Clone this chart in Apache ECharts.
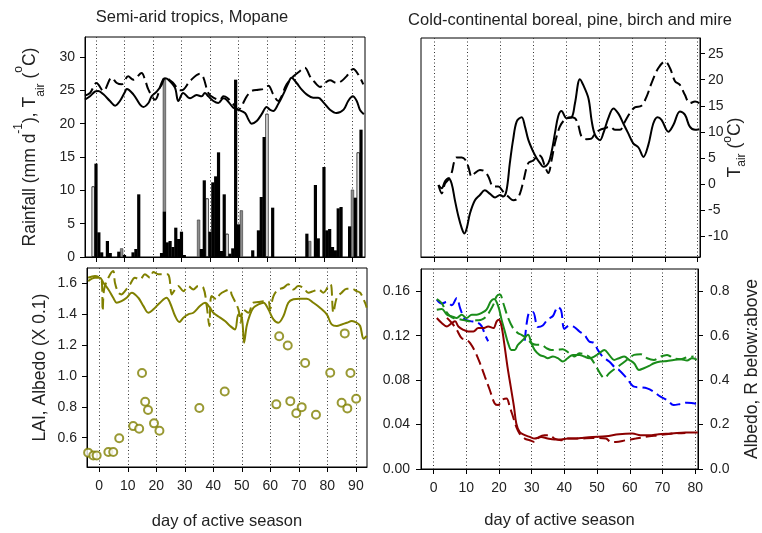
<!DOCTYPE html>
<html>
<head>
<meta charset="utf-8">
<script src="https://cdn.jsdelivr.net/npm/echarts@6/dist/echarts.min.js"></script>
<style>
  html, body { margin: 0; padding: 0; background: #fff; }
  #chart { width: 762px; height: 533px; }
</style>
</head>
<body>
<div id="chart"></div>
<script>
// ---- data ----
// tick positions
const xTicksMopane = [0, 10, 20, 30, 40, 50, 60, 70, 80, 90];
const xTicksBoreal = [0, 10, 20, 30, 40, 50, 60, 70, 80];
const yTicksRain = [0, 5, 10, 15, 20, 25, 30];
const yTicksLai = [0.6, 0.8, 1.0, 1.2, 1.4, 1.6];
const yTicksTair = [-10, -5, 0, 5, 10, 15, 20, 25];
const yTicksAlbedo = [0, 0.04, 0.08, 0.12, 0.16];
const yTicksRatio = [0, 0.2, 0.4, 0.6, 0.8];

// Mopane rainfall bars [day, mm]
const rainBlack = [[0, 14.0], [1, 3.7], [2, 0.7], [4, 2.4], [5, 0.6], [8, 0.8], [10, 0.3], [13, 0.7], [14, 1.2],
  [15, 9.4], [23, 0.6], [24, 6.8], [25, 2.2], [26, 2.4], [27, 1.5], [28, 4.4], [29, 2.7], [30, 3.8], [31, 0.3],
  [37, 1.2], [38, 11.5], [40, 3.8], [41, 11.2], [42, 12.1], [43, 15.7], [44, 0.9], [45, 9.4], [47, 0.5], [48, 1.3],
  [49, 26.6], [50, 4.9], [55, 1.0], [57, 4.0], [58, 9.0], [59, 18.0], [62, 7.4], [74, 3.5], [77, 10.8], [78, 2.8],
  [80, 13.5], [81, 4.0], [82, 4.2], [83, 1.5], [84, 1.0], [85, 7.3], [86, 7.5], [89, 4.6], [91, 8.9], [93, 19.1]];
const rainGrey = [[9, 1.3], [24, 26.8], [36, 5.6], [51, 7.0], [75, 2.4], [90, 10.1]];
const rainOpen = [[-1, 10.6], [39, 8.8], [46, 3.5], [60, 21.5], [92, 15.7]];

// Mopane air temperature [day, degC]
const tairDashedMopane = [[-3.9, 24.2], [-2.1, 24.6], [0.2, 26.1], [2.6, 24.9], [5.5, 26.9], [7.3, 26.1], [9, 25.9],
  [11.3, 27.1], [13.1, 26.6], [16, 27.6], [17.2, 26.6], [18.4, 25.1], [20.7, 23.6], [23, 26.1], [24.2, 26.9],
  [27.1, 26.1], [28.9, 25.1], [30.1, 25.0], [33, 26.4], [36.5, 27.5], [37.7, 26.9], [39.4, 24.6], [41.2, 23.9],
  [43.5, 23.6], [44.7, 24.1], [46, 23.9], [48.2, 22.9], [49.9, 22.1], [52.9, 24.1], [54.6, 24.9], [57, 25.1],
  [58.7, 25.2], [60.5, 25.7], [62.2, 24.4], [64, 23.4], [65.1, 24.1], [66.9, 25.9], [69.3, 27.1], [71.6, 27.9],
  [73.3, 28.4], [75.1, 27.1], [77.4, 25.9], [78.6, 25.5], [80.3, 26.1], [82.1, 26.5], [84.4, 26.1], [86.2, 26.4],
  [87.9, 27.1], [90.3, 28.2], [92, 27.4], [93.8, 25.9]];
const tairSolidMopane = [[-3.9, 23.6], [-2.1, 24.1], [-0.4, 24.8], [0.8, 24.9], [2.6, 24.4], [4.9, 23.4], [6.7, 22.7],
  [8.4, 23.4], [10.2, 24.8], [10.8, 25.2], [13.1, 24.4], [15.4, 22.9], [16.6, 22.5], [18.4, 23.1], [19.5, 24.1],
  [21.3, 24.8], [23, 25.8], [24.2, 26.8], [25.4, 26.6], [27.7, 25.4], [28.9, 23.4], [30.6, 24.6], [33, 23.8],
  [35.3, 24.3], [37.1, 24.1], [38.2, 24.6], [39.4, 24.1], [41.2, 23.4], [42.9, 23.1], [44.7, 23.8], [45.8, 23.6],
  [48.2, 22.4], [49.9, 22.1], [52.3, 21.6], [53.4, 20.7], [54.6, 20.0], [56.4, 20.4], [58.1, 21.4], [59.9, 22.5],
  [61, 22.1], [62.2, 21.9], [63.9, 22.9], [65.7, 24.4], [67.5, 26.1], [68.6, 26.9], [70.4, 26.1], [72.2, 25.1],
  [73.9, 24.4], [76.2, 23.9], [78, 23.9], [79.8, 23.2], [82.1, 22.1], [84.4, 21.6], [86.9, 22.1], [88.5, 23.4],
  [90.1, 24.1], [91.5, 23.4], [92.6, 22.1], [94, 21.4]];

// Mopane LAI (circles) and albedo x0.1 (lines)
const laiMopane = [[-3.9, 0.503], [-2.1, 0.485], [-0.9, 0.485], [3.2, 0.507], [4.9, 0.507], [7.0, 0.596],
  [11.9, 0.675], [14.0, 0.658], [15.0, 1.019], [16.1, 0.833], [17.1, 0.779], [19.2, 0.693], [21.1, 0.645],
  [35.1, 0.792], [44.0, 0.900], [62.1, 0.816], [63.1, 1.257], [66.1, 1.198], [67.0, 0.837], [69.1, 0.758],
  [71.0, 0.798], [72.2, 1.084], [76.0, 0.749], [81.0, 1.021], [85.0, 0.827], [86.1, 1.276], [87.0, 0.790],
  [88.1, 1.019], [90.1, 0.853]];
const albedoSolidMopane = [[-3.9, 1.615], [-1.5, 1.637], [0.2, 1.637], [1.4, 1.605], [3.2, 1.561], [4.9, 1.507],
  [6.1, 1.475], [7.8, 1.485], [9.6, 1.507], [11.4, 1.54], [13.7, 1.507], [15.5, 1.453], [17.2, 1.41], [19, 1.432],
  [21.3, 1.475], [23.6, 1.507], [24.8, 1.475], [26.6, 1.389], [28.1, 1.35], [29.5, 1.378], [31.2, 1.4], [33, 1.41],
  [35.3, 1.453], [37.1, 1.475], [38.8, 1.443], [40, 1.41], [42.4, 1.378], [44.1, 1.356], [45.9, 1.324],
  [47.6, 1.302], [48.8, 1.399], [50, 1.378], [50.8, 1.216], [51.7, 1.324], [52.9, 1.399], [54.1, 1.443],
  [55.8, 1.464], [57.6, 1.475], [59.3, 1.432], [61.1, 1.367], [62.8, 1.345], [64.6, 1.389], [66.3, 1.475],
  [68.1, 1.497], [70.4, 1.501], [72.8, 1.501], [75.1, 1.475], [77.4, 1.443], [79.8, 1.399], [81.5, 1.334],
  [83.3, 1.324], [85, 1.334], [86.8, 1.345], [88.6, 1.356], [90.3, 1.345], [91.5, 1.324], [92.7, 1.242],
  [93.8, 1.259]];
const albedoDashedMopane = [[-3.9, 1.637], [-1.5, 1.648], [0.2, 1.637], [0.9, 1.615], [1.2, 1.421], [1.7, 1.561],
  [3.2, 1.637], [4.9, 1.68], [5.5, 1.605], [6.7, 1.54], [7.8, 1.529], [9, 1.55], [10.8, 1.594], [12.5, 1.637],
  [14.3, 1.626], [16, 1.659], [17.8, 1.637], [19, 1.674], [20.7, 1.659], [22.5, 1.659], [23.9, 1.659],
  [24.6, 1.637], [25.4, 1.529], [26.2, 1.55], [27.7, 1.583], [29.5, 1.55], [31.2, 1.583], [33, 1.561],
  [34.7, 1.583], [36.5, 1.572], [37.7, 1.453], [38.6, 1.324], [39.4, 1.518], [41.2, 1.496], [42.3, 1.529],
  [44.1, 1.55], [45.9, 1.561], [46.4, 1.529], [48.8, 1.432], [49.6, 1.345], [50.5, 1.432], [52.3, 1.41],
  [54, 1.475], [55.8, 1.479], [57.5, 1.485], [59.3, 1.485], [59.9, 1.432], [61.1, 1.518], [62.8, 1.561],
  [64.6, 1.572], [66.3, 1.594], [68.1, 1.561], [69.8, 1.583], [71.6, 1.572], [73.3, 1.54], [75.1, 1.55],
  [76.9, 1.561], [78.6, 1.54], [80.4, 1.583], [81.2, 1.594], [82.1, 1.41], [83.3, 1.507], [85, 1.54],
  [86.8, 1.566], [88.6, 1.566], [90.3, 1.55], [91.5, 1.54], [93.2, 1.475], [93.8, 1.443]];

// Boreal air temperature [day, degC]
const tairSolidBoreal = [[1.2, -0.2], [2.2, -0.8], [3.2, 0.5], [4.2, 1.1], [5.2, 0.1], [6.2, -3.1], [7.3, -6.3],
  [8.3, -8.5], [9.1, -9.5], [9.8, -8.5], [10.8, -5.6], [12.3, -3.1], [13.8, -2.1], [15.3, -1.2], [16.9, -1.9],
  [18.4, -2.6], [19.9, -2.1], [20.9, -2.4], [21.9, -1.2], [22.9, 4.0], [23.9, 8.5], [25, 12.0], [26.5, 12.8],
  [27.5, 11.0], [28.5, 8.5], [30, 6.2], [31.1, 4.9], [32.1, 4.0], [33.1, 3.3], [34.6, 4.0], [35.6, 6.2],
  [36.6, 9.7], [37.6, 13.0], [38.6, 14.0], [40.2, 12.6], [41.7, 12.8], [42.7, 15.5], [44.2, 20.1], [45.2, 19.0],
  [46.8, 16.4], [47.8, 12.0], [48.8, 9.4], [50.3, 8.4], [51.3, 9.7], [52.8, 12.6], [54.4, 14.5], [55.9, 13.5],
  [57.4, 11.6], [58.9, 9.7], [60.4, 7.8], [62, 7.0], [63.5, 5.2], [65, 7.5], [66.5, 11.6], [67.8, 12.8],
  [69, 12.3], [71.1, 10], [72.6, 11.3], [74.6, 13.9], [76.1, 13.3], [77.6, 11], [79.2, 10.4], [80.5, 10.5]];
const tairDashedBoreal = [[1.2, -0.2], [2.2, -1.8], [3.2, 0.1], [4.2, 0.8], [5.2, 2.1], [6, 4.3], [6.7, 5.1],
  [8.3, 5.1], [9.3, 4.7], [10.3, 3.3], [11.3, 1.4], [12.3, 2.1], [13.8, 2.7], [15.3, 2.4], [16.4, 1.4],
  [17.9, -0.5], [19.4, -0.5], [20.9, -1.5], [22.4, -2.4], [23.9, -3.1], [25, -2.9], [26, -1.8], [27, 0.5],
  [28.5, 4.0], [30, 4.5], [31.6, 5.6], [32.6, 5.1], [33.6, 3.3], [34.6, 2.1], [35.6, 4.6], [36.6, 7.8],
  [38.1, 11], [39.7, 12.4], [41.2, 12.8], [42.7, 12.6], [43.7, 11.3], [44.7, 9.1], [46.2, 8.6], [47.7, 8.7],
  [48.8, 9.7], [50.3, 10.4], [51.8, 10.7], [53.3, 11], [54.9, 10.4], [56.4, 10.4], [57.9, 12], [59.4, 13.6],
  [60.9, 14.7], [62.9, 15], [64.5, 16.8], [66, 19.4], [68, 22.2], [70.1, 23.5], [71.6, 22.2], [73.1, 19.7],
  [74.6, 19], [76.1, 17.1], [77.6, 15.5], [79.2, 15.8], [80.5, 15.5]];

// Boreal albedo [day, albedo]
const albedoBlueDashed = [[1, 0.1525], [2.5, 0.1489], [4.1, 0.1504], [5.6, 0.1474], [7.1, 0.154], [8.1, 0.145],
  [9.6, 0.1346], [11.2, 0.1331], [13.2, 0.1322], [14.7, 0.1286], [15.7, 0.1211], [16.7, 0.115], [17.5, null],
  [27.9, 0.1155], [29.4, 0.1413], [30.4, 0.1413], [31.9, 0.1278], [33.4, 0.1292], [34.9, 0.1347], [36.5, 0.1377],
  [38, 0.1458], [39, 0.1428], [40, 0.1262], [41.5, 0.1292], [43, 0.1278], [44.6, 0.1238], [46.1, 0.1208],
  [47.6, 0.1148], [49.1, 0.1133], [50.2, 0.1072], [51.7, 0.1012], [53.7, 0.0967], [55.7, 0.0907], [56.7, 0.0892],
  [59, 0.082], [61.3, 0.0741], [63.3, 0.0735], [65.3, 0.0726], [67.3, 0.0696], [69.4, 0.0651], [71.4, 0.0621],
  [73.4, 0.0576], [75.4, 0.0585], [77.5, 0.0597], [79.5, 0.0591], [80.8, 0.0585]];
const albedoGreenSolid = [[1, 0.1434], [2.5, 0.144], [4.1, 0.1389], [5.6, 0.1374], [7.1, 0.1359], [8.6, 0.1389],
  [10.1, 0.1359], [11.7, 0.1389], [13.2, 0.1389], [14.7, 0.1404], [16.2, 0.1434], [17.5, 0.1509], [18.5, 0.153],
  [19.8, 0.1464], [20.8, 0.1344], [21.8, 0.1238], [22.8, 0.1133], [23.8, 0.1072], [24.8, 0.1072], [25.8, 0.1118],
  [27.4, 0.1163], [28.9, 0.1208], [29.9, 0.1133], [30.9, 0.1072], [32.4, 0.1027], [33.9, 0.1012], [34.9, 0.0997],
  [36.5, 0.1012], [38, 0.0997], [39.5, 0.0967], [41, 0.0997], [42.6, 0.1027], [44.6, 0.1027], [46.1, 0.1012],
  [47.6, 0.0997], [49.1, 0.1012], [50.7, 0.1042], [52.2, 0.1072], [53.7, 0.1027], [55.2, 0.0982], [56.7, 0.0997],
  [58.3, 0.1012], [59.8, 0.0982], [61.3, 0.0952], [62.8, 0.0892], [64.3, 0.0907], [65.9, 0.0928], [67.4, 0.0952],
  [69.4, 0.0967], [71.4, 0.0973], [73.4, 0.0982], [75.5, 0.0988], [77.5, 0.0976], [79, 0.0997], [80.5, 0.0985]];
const albedoGreenDashed = [[1, 0.153], [2.5, 0.1494], [3.5, 0.1434], [4.6, 0.1389], [6.1, 0.1359], [7.6, 0.135],
  [9.6, 0.1338], [11.2, 0.1329], [13.2, 0.1338], [14.7, 0.1344], [16.2, 0.1374], [17.2, 0.1419], [18.3, 0.1479],
  [19.3, 0.1555], [20.3, 0.157], [21.3, 0.1494], [22.8, 0.1359], [24.3, 0.1268], [25.8, 0.1223], [26.9, 0.1208],
  [28.4, 0.1178], [29.9, 0.1133], [31.4, 0.1118], [32.9, 0.1118], [34.5, 0.1088], [36, 0.1072], [37.5, 0.1072],
  [39.5, 0.1078], [41.5, 0.1042], [43.1, 0.1012], [44.6, 0.1042], [46.6, 0.1027], [48.1, 0.0997], [49.7, 0.0922],
  [51.2, 0.0847], [52.2, 0.0817], [53.7, 0.0862], [55.7, 0.0907], [57.8, 0.0952], [59.8, 0.0997], [61.3, 0.1027],
  [63.3, 0.1033], [65.3, 0.0997], [67.4, 0.0982], [69.4, 0.1012], [71.4, 0.1027], [73.4, 0.0997], [75.5, 0.0988],
  [77.5, 0.1006], [79.5, 0.1012]];
const albedoRedSolid = [[1, 0.1359], [2.5, 0.1314], [4.1, 0.1283], [5.6, 0.1314], [6.6, 0.1329], [7.6, 0.1283],
  [9.1, 0.1253], [10.6, 0.1238], [12.2, 0.1238], [13.7, 0.1268], [15.2, 0.1268], [16.7, 0.1283], [18.3, 0.1268],
  [19.3, 0.1329], [20, 0.1344], [20.8, 0.1283], [21.6, 0.1133], [22.6, 0.0922], [23.6, 0.0741], [24.6, 0.056],
  [25.3, 0.041], [26.3, 0.0334], [27.9, 0.0304], [29.4, 0.0289], [30.9, 0.0274], [32.9, 0.0289], [34.9, 0.0274],
  [37, 0.0265], [39, 0.0265], [41, 0.0274], [43.1, 0.0274], [45.1, 0.028], [48.6, 0.0289], [52.7, 0.0295],
  [56.7, 0.0313], [60.8, 0.0319], [63.3, 0.0304], [65.9, 0.0304], [68.9, 0.0313], [72.9, 0.0319], [77, 0.0328],
  [80.8, 0.0328]];
const albedoRedDashed = [[4.1, 0.136], [5.6, 0.1314], [7.1, 0.1253], [8.6, 0.1178], [10.1, 0.1163], [11.2, 0.1133],
  [12.7, 0.1057], [14.2, 0.0952], [15.7, 0.0831], [17.2, 0.0711], [18.7, 0.059], [19.8, 0.0575], [20.8, 0.062],
  [22.3, 0.0635], [23.3, 0.056], [24.3, 0.047], [25.3, 0.0379], [26.3, 0.0319], [27.9, 0.0274], [29.4, 0.0259],
  [30.9, 0.0244], [32.4, 0.0289], [33.9, 0.0304], [35.5, 0.0304], [37, 0.0274], [39, 0.0259], [41, 0.0274],
  [43.1, 0.0274], [44.6, 0.0274], [48.6, 0.028], [52.7, 0.0274], [54.2, 0.0244], [55.7, 0.0244], [58.8, 0.0259],
  [61.8, 0.0274], [64.8, 0.0289], [68.9, 0.0304], [72.9, 0.0319], [77, 0.0325]];

// ---- chart ----
const FONT = "'Liberation Sans', Arial, sans-serif";
const OLIVE = "#808000";
const DASH = [11, 5];

const labelStyle = { color: "#222", fontSize: 14, fontFamily: FONT };
const xNameStyle = { color: "#222", fontSize: 16.5, fontFamily: FONT };
const yNameStyle = { color: "#222", fontSize: 17.5, fontFamily: FONT };

function dayAxis(grid, min, max, ticks, showLabels) {
  return {
    type: "value",
    gridIndex: grid,
    min: min,
    max: max,
    axisLine: { onZero: false, lineStyle: { color: "#000", width: 1 } },
    axisTick: { show: true, length: 5, customValues: ticks, lineStyle: { color: "#000" } },
    axisLabel: Object.assign({ show: showLabels, margin: 12, customValues: ticks }, labelStyle),
    splitLine: { show: true, lineStyle: { color: "#333", type: [1, 2.5], width: 1 } },
  };
}

function line(name, x, y, data, color, dashed, width) {
  return {
    name: name,
    type: "line",
    xAxisIndex: x,
    yAxisIndex: y,
    data: data,
    showSymbol: false,
    smooth: 0.35,
    connectNulls: false,
    lineStyle: { color: color, width: width || 2, type: dashed ? DASH : "solid" },
    itemStyle: { color: color },
  };
}

// rich styles for super/subscripts in the temperature axis names
const supRich = {
  t: { fontSize: 17.5, fontFamily: FONT, color: "#222", lineHeight: 34 },
  sup: { fontSize: 12, fontFamily: FONT, color: "#222", lineHeight: 12, verticalAlign: "top" },
  sub: { fontSize: 12, fontFamily: FONT, color: "#222", lineHeight: 22, verticalAlign: "bottom" },
};
const supRichRight = {
  t: { fontSize: 17.5, fontFamily: FONT, color: "#222", lineHeight: 26 },
  sup: { fontSize: 12, fontFamily: FONT, color: "#222", lineHeight: 12, verticalAlign: "top" },
  sub: { fontSize: 12, fontFamily: FONT, color: "#222", lineHeight: 20, verticalAlign: "bottom" },
};

const option = {
  backgroundColor: "#fff",
  animation: false,
  textStyle: { fontFamily: FONT },
  title: [
    { text: "Semi-arid tropics, Mopane", left: 187, top: 4, textAlign: "center",
      textStyle: { fontSize: 16.5, fontWeight: "normal", color: "#222", fontFamily: FONT } },
    { text: "Cold-continental boreal, pine, birch and mire", left: 565, top: 7, textAlign: "center",
      textStyle: { fontSize: 16.5, fontWeight: "normal", color: "#222", fontFamily: FONT } },
  ],
  grid: [
    { left: 85, top: 37, width: 280, height: 220, show: true, borderColor: "#000", borderWidth: 1 },
    { left: 87, top: 268, width: 280, height: 199, show: true, borderColor: "#000", borderWidth: 1 },
    { left: 421, top: 38, width: 279, height: 219, show: true, borderColor: "#000", borderWidth: 1 },
    { left: 421, top: 269, width: 278, height: 200, show: true, borderColor: "#000", borderWidth: 1 },
  ],
  xAxis: [
    dayAxis(0, -3.86, 94.4, xTicksMopane, false),
    Object.assign(dayAxis(1, -4.3, 93.9, xTicksMopane, true), {
      name: "day of active season", nameLocation: "middle", nameGap: 46, nameMoveOverlap: false,
      nameTextStyle: xNameStyle }),
    dayAxis(2, -4.1, 80.7, xTicksBoreal, false),
    Object.assign(dayAxis(3, -3.83, 80.85, xTicksBoreal, true), {
      name: "day of active season", nameLocation: "middle", nameGap: 43, nameMoveOverlap: false,
      nameTextStyle: xNameStyle }),
  ],
  yAxis: [
    {
      type: "value", gridIndex: 0, min: 0, max: 33,
      axisLine: { show: true, onZero: false, lineStyle: { color: "#000" } },
      axisTick: { show: true, length: 5, customValues: yTicksRain },
      axisLabel: Object.assign({ margin: 10, customValues: yTicksRain }, labelStyle),
      splitLine: { show: false },
      name: "{t|Rainfall (mm d}{sup|-1}{t|), T}{sub|air}{t| (}{sup|o}{t|C)}",
      nameLocation: "middle", nameGap: 38, nameMoveOverlap: false,
      nameTextStyle: { rich: supRich },
    },
    {
      type: "value", gridIndex: 1, min: 0.41, max: 1.7,
      axisLine: { show: true, onZero: false, lineStyle: { color: "#000" } },
      axisTick: { show: true, length: 5, customValues: yTicksLai },
      axisLabel: Object.assign({ margin: 10, customValues: yTicksLai,
        formatter: (v) => v.toFixed(1) }, labelStyle),
      splitLine: { show: false },
      name: "LAI, Albedo (X 0.1)", nameLocation: "middle", nameGap: 38, nameMoveOverlap: false,
      nameTextStyle: yNameStyle,
    },
    {
      type: "value", gridIndex: 2, position: "right", min: -14, max: 28,
      axisLine: { show: true, onZero: false, lineStyle: { color: "#000" } },
      axisTick: { show: true, length: 5, customValues: yTicksTair },
      axisLabel: Object.assign({ margin: 8, customValues: yTicksTair }, labelStyle),
      splitLine: { show: false },
      name: "{t|T}{sub|air}{t| (}{sup|o}{t|C)}",
      nameLocation: "middle", nameGap: 22, nameMoveOverlap: false,
      nameTextStyle: { rich: supRichRight },
    },
    {
      type: "value", gridIndex: 3, min: 0, max: 0.18,
      axisLine: { show: true, onZero: false, lineStyle: { color: "#000" } },
      axisTick: { show: true, length: 5, customValues: yTicksAlbedo },
      axisLabel: Object.assign({ margin: 11, customValues: yTicksAlbedo,
        formatter: (v) => v.toFixed(2) }, labelStyle),
      splitLine: { show: false },
    },
    {
      type: "value", gridIndex: 3, position: "right", min: 0, max: 0.9,
      axisLine: { show: true, onZero: false, lineStyle: { color: "#000" } },
      axisTick: { show: true, length: 5, customValues: yTicksRatio },
      axisLabel: Object.assign({ margin: 12, customValues: yTicksRatio,
        formatter: (v) => v.toFixed(1) }, labelStyle),
      splitLine: { show: false },
      name: "Albedo, R below:above", nameLocation: "middle", nameGap: 45, nameMoveOverlap: false,
      nameTextStyle: yNameStyle,
    },
  ],
  series: [
    // rainfall bars (overlapping, black drawn last)
    {
      name: "rain grey", type: "bar", xAxisIndex: 0, yAxisIndex: 0, data: rainGrey,
      barWidth: 3.2, barGap: "-100%",
      itemStyle: { color: "#8c8c8c", borderColor: "#333", borderWidth: 0.6 },
    },
    {
      name: "rain open", type: "bar", xAxisIndex: 0, yAxisIndex: 0, data: rainOpen,
      barWidth: 3.2, barGap: "-100%",
      itemStyle: { color: "#fff", borderColor: "#000", borderWidth: 0.8 },
    },
    {
      name: "rain", type: "bar", xAxisIndex: 0, yAxisIndex: 0, data: rainBlack,
      barWidth: 3.2, barGap: "-100%",
      itemStyle: { color: "#000" },
    },
    line("Tair dashed", 0, 0, tairDashedMopane, "#000", true),
    line("Tair solid", 0, 0, tairSolidMopane, "#000", false),

    // LAI and albedo, Mopane
    line("albedo dashed", 1, 1, albedoDashedMopane, OLIVE, true),
    line("albedo solid", 1, 1, albedoSolidMopane, OLIVE, false),
    {
      name: "LAI", type: "scatter", xAxisIndex: 1, yAxisIndex: 1, data: laiMopane,
      symbol: "circle", symbolSize: 8,
      itemStyle: { color: "#fff", borderColor: OLIVE, borderWidth: 2 },
    },

    // boreal air temperature
    line("Tair dashed boreal", 2, 2, tairDashedBoreal, "#000", true),
    line("Tair solid boreal", 2, 2, tairSolidBoreal, "#000", false),

    // boreal albedo
    line("blue", 3, 3, albedoBlueDashed, "#0000ff", true),
    line("green dashed", 3, 3, albedoGreenDashed, "#1a8c1a", true),
    line("green", 3, 3, albedoGreenSolid, "#1a8c1a", false),
    line("red dashed", 3, 3, albedoRedDashed, "#8b0000", true),
    line("red", 3, 3, albedoRedSolid, "#8b0000", false),
  ],
};

const myChart = echarts.init(document.getElementById("chart"));
myChart.setOption(option);
window.addEventListener("resize", function () {
  myChart.resize();
});
</script>
</body>
</html>
